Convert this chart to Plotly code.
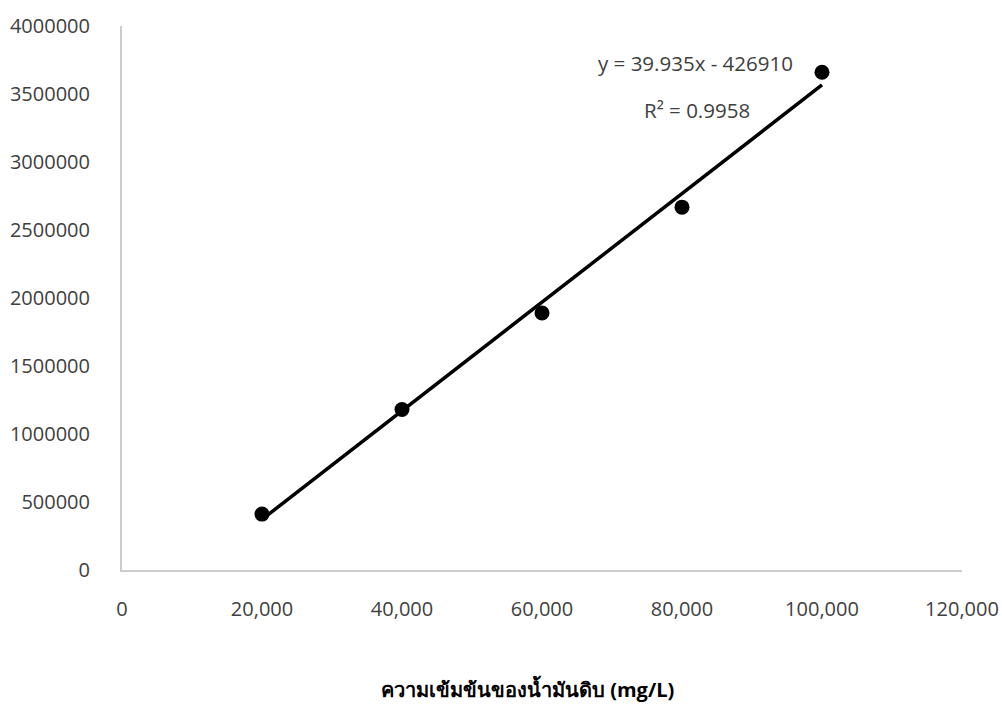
import plotly.graph_objects as go

conc = [20000, 40000, 60000, 80000, 100000]
area = [411000, 1180000, 1890000, 2668000, 3660000]
slope = 39.935
intercept = -426910
eq_text = "y = 39.935x - 426910"
r2_text = "R² = 0.9958"
x_title = "ความเข้มข้นของน้ำมันดิบ (mg/L)"
x_ticks = [0, 20000, 40000, 60000, 80000, 100000, 120000]
x_ticktext = ["0", "20,000", "40,000", "60,000", "80,000", "100,000", "120,000"]
y_ticks = [0, 500000, 1000000, 1500000, 2000000, 2500000, 3000000, 3500000, 4000000]

trend_x = [conc[0], conc[-1]]
trend_y = [slope * v + intercept for v in trend_x]

font_fam = "Open Sans, Noto Sans, sans-serif"

L, R, T, B = 122, 962, 26, 570
W, H = R - L, B - T

fig = go.Figure()
fig.add_trace(go.Scatter(x=trend_x, y=trend_y, mode="lines",
                         line=dict(color="black", width=3.5), showlegend=False))
fig.add_trace(go.Scatter(x=conc, y=area, mode="markers",
                         marker=dict(color="black", size=15), showlegend=False))

fig.update_layout(
    width=1002, height=715, autosize=False,
    margin=dict(l=L, r=1002 - R, t=T, b=715 - B),
    plot_bgcolor="white", paper_bgcolor="white",
    font=dict(family=font_fam, size=20, color="#404040"),
    xaxis=dict(range=[0, 120000], tickvals=x_ticks, ticktext=x_ticktext,
               showgrid=False, zeroline=False, showline=True, automargin=False,
               linecolor="#cccccc", linewidth=2, ticks="", ticklabelstandoff=20),
    yaxis=dict(range=[0, 4000000], tickvals=y_ticks, automargin=False,
               tickformat="d", showgrid=False, zeroline=False, showline=True,
               linecolor="#cccccc", linewidth=2, ticks="", ticklabelstandoff=26),
)
fig.add_annotation(x=(695 - L) / W, y=(B - 63) / H, xref="x domain", yref="y domain",
                   text=eq_text, showarrow=False, font=dict(size=20.5, color="#404040"),
                   xanchor="center", yanchor="middle")
fig.add_annotation(x=(697 - L) / W, y=(B - 110) / H, xref="x domain", yref="y domain",
                   text=r2_text, showarrow=False, font=dict(size=20.5, color="#404040"),
                   xanchor="center", yanchor="middle")
fig.add_annotation(x=(527 - L) / W, y=(B - 689) / H, xref="x domain", yref="y domain",
                   text="<b>" + x_title + "</b>", showarrow=False,
                   font=dict(size=20, color="#000000"),
                   xanchor="center", yanchor="middle")

fig.write_html(
    "out.html",
    config={"displayModeBar": False, "responsive": False},
    post_script=(
        "document.documentElement.style.margin='0';"
        "document.documentElement.style.overflow='hidden';"
        "document.body.style.margin='0';"
        "document.body.style.overflow='hidden';"
    ),
)
